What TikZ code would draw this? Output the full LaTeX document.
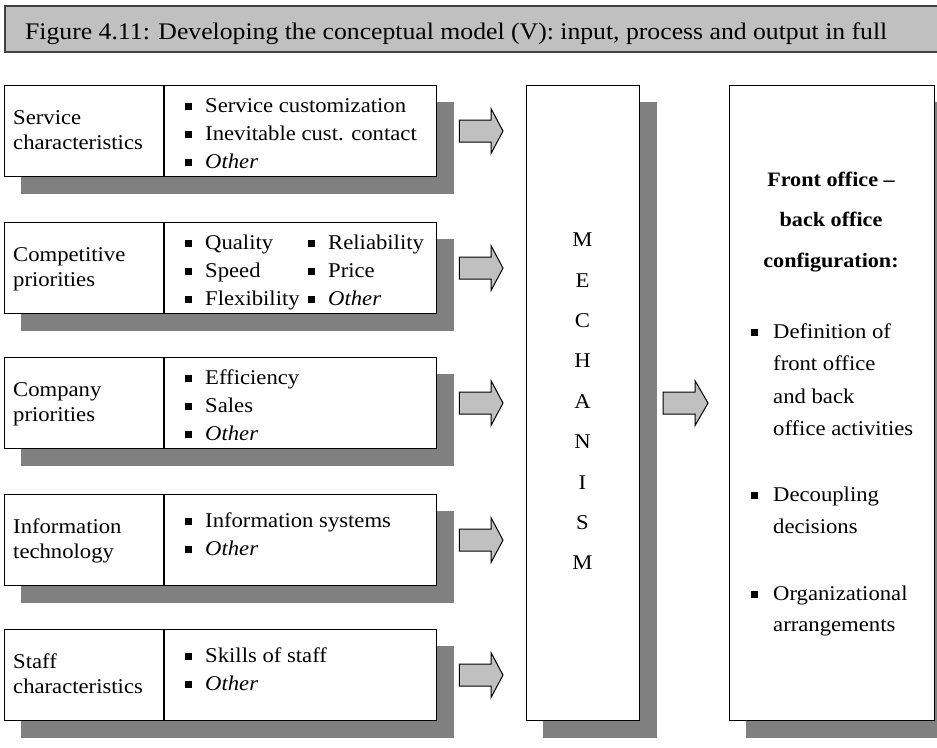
\documentclass[tikz,border=0pt]{standalone}
\usepackage{fontspec}
\setmainfont{Liberation Serif}[FakeStretch=1.08]
\usetikzlibrary{backgrounds,calc}
\definecolor{shadowgrey}{HTML}{808080}
\definecolor{arrowgrey}{HTML}{C0C0C0}
\definecolor{titlegrey}{HTML}{C0C0C0}
\definecolor{titleborder}{HTML}{404040}
\newcommand\sqb{\rule[2.5pt]{7pt}{7pt}}
\newcommand\lbul{\makebox[20pt][l]{\sqb}}
\newcommand\rbul{\makebox[22pt][l]{\sqb}}
\tikzset{
  txt/.style={inner sep=0pt, font=\fontsize{21}{25}\selectfont, anchor=base west},
  boldtxt/.style={inner sep=0pt, font=\fontsize{20.5}{25}\selectfont\bfseries, anchor=base},
  cell/.style={draw=black, line width=1.2pt, fill=white, inner sep=0pt, anchor=north west},
  fatarrow/.style={draw=black, line width=1pt, fill=arrowgrey, line join=miter},
}
\newcommand\inrow[2]{%
  \node[cell, minimum width=159pt, minimum height=91pt] (l#1) at (4,#2) {};
  \node[cell, minimum width=272pt, minimum height=91pt] (c#1) at (l#1.north east) {};
  \begin{scope}[on background layer]
    \fill[shadowgrey] ($(l#1.north west)+(16.5,16.5)$) rectangle ($(c#1.south east)+(16.5,16.5)$);
  \end{scope}
  \path (c#1.east) ++(22,0) coordinate (t#1);
  \path (mech.west |- c#1.east) ++(-23,0) coordinate (h#1);
  \draw[fatarrow] (t#1) ++(0,-11) -- ($(h#1)+(-12,-11)$) -- ($(h#1)+(-12,-22.5)$) -- (h#1)
     -- ($(h#1)+(-12,22.5)$) -- ($(h#1)+(-12,11)$) -- ($(t#1)+(0,11)$) -- cycle;
}
\begin{document}
\begin{tikzpicture}[x=1pt,y=-1pt]
\useasboundingbox (0,0) rectangle (937,747);
% title
\node[draw=titleborder, line width=2pt, fill=titlegrey, anchor=north west,
      minimum width=945pt, minimum height=46pt, inner sep=0pt] (titlebox) at (4,5) {};
\node[txt, font=\fontsize{23.8}{28}\selectfont] (title) at (25,39) {Figure 4.11: Developing the conceptual model (V): input, process and output in full};
% mechanism and output boxes
\node[cell, minimum width=113pt, minimum height=635pt] (mech) at (526,85) {};
\node[cell, minimum width=205pt, minimum height=635pt] (out) at (729,85) {};
\begin{scope}[on background layer]
  \fill[shadowgrey] ($(mech.north west)+(16.5,16.5)$) rectangle ($(mech.south east)+(16.5,16.5)$);
  \fill[shadowgrey] ($(out.north west)+(16.5,16.5)$) rectangle ($(out.south east)+(16.5,16.5)$);
\end{scope}
% input rows
\inrow{1}{85}
\inrow{2}{222}
\inrow{3}{357}
\inrow{4}{494}
\inrow{5}{629}
% row 1
\node[txt] (l1a) at ($(l1.north west)+(9,39)$) {Service};
\node[txt] (l1b) at ($(l1.north west)+(9,64.5)$) {characteristics};
\node[txt] (c1a) at ($(l1.north west)+(181,27)$) {\lbul Service customization};
\node[txt] (c1b) at ($(l1.north west)+(181,55.5)$) {\lbul Inevitable cust. contact};
\node[txt] (c1c) at ($(l1.north west)+(181,83)$) {\lbul\textit{Other}};
% row 2
\node[txt] (l2a) at ($(l2.north west)+(9,39)$) {Competitive};
\node[txt] (l2b) at ($(l2.north west)+(9,64.5)$) {priorities};
\node[txt] (c2a) at ($(l2.north west)+(181,27)$) {\lbul Quality};
\node[txt] (c2b) at ($(l2.north west)+(181,55.5)$) {\lbul Speed};
\node[txt] (c2c) at ($(l2.north west)+(181,83)$) {\lbul Flexibility};
\node[txt] (c2d) at ($(l2.north west)+(304,27)$) {\lbul Reliability};
\node[txt] (c2e) at ($(l2.north west)+(304,55.5)$) {\lbul Price};
\node[txt] (c2f) at ($(l2.north west)+(304,83)$) {\lbul\textit{Other}};
% row 3
\node[txt] (l3a) at ($(l3.north west)+(9,39)$) {Company};
\node[txt] (l3b) at ($(l3.north west)+(9,64.5)$) {priorities};
\node[txt] (c3a) at ($(l3.north west)+(181,27)$) {\lbul Efficiency};
\node[txt] (c3b) at ($(l3.north west)+(181,55.5)$) {\lbul Sales};
\node[txt] (c3c) at ($(l3.north west)+(181,83)$) {\lbul\textit{Other}};
% row 4
\node[txt] (l4a) at ($(l4.north west)+(9,39)$) {Information};
\node[txt] (l4b) at ($(l4.north west)+(9,64.5)$) {technology};
\node[txt] (c4a) at ($(l4.north west)+(181,33)$) {\lbul Information systems};
\node[txt] (c4b) at ($(l4.north west)+(181,61)$) {\lbul\textit{Other}};
% row 5
\node[txt] (l5a) at ($(l5.north west)+(9,39)$) {Staff};
\node[txt] (l5b) at ($(l5.north west)+(9,64.5)$) {characteristics};
\node[txt] (c5a) at ($(l5.north west)+(181,33)$) {\lbul Skills of staff};
\node[txt] (c5b) at ($(l5.north west)+(181,61)$) {\lbul\textit{Other}};
% mechanism letters
\foreach \ch [count=\i from 0] in {M,E,C,H,A,N,I,S,M}
  \node[txt, anchor=base] (m\i) at (582.5,246.7+40.4*\i) {\ch};
% middle arrow
\path (mech.east) ++(23,0) coordinate (tm);
\path (out.west) ++(-21,0) coordinate (hm);
\draw[fatarrow] (tm) ++(0,-11) -- ($(hm)+(-13,-11)$) -- ($(hm)+(-13,-22.5)$) -- (hm)
   -- ($(hm)+(-13,22.5)$) -- ($(hm)+(-13,11)$) -- ($(tm)+(0,11)$) -- cycle;
% output text
\node[boldtxt] (o1) at (831,186) {Front office –};
\node[boldtxt] (o2) at (831,226) {back office};
\node[boldtxt] (o3) at (831,267) {configuration:};
\node[txt] (p1) at (751,338) {\rbul Definition of};
\node[txt] (p2) at (773,370.7) {front office};
\node[txt] (p3) at (773,403.3) {and back};
\node[txt] (p4) at (773,435.7) {office activities};
\node[txt] (p5) at (751,501.7) {\rbul Decoupling};
\node[txt] (p6) at (773,533.3) {decisions};
\node[txt] (p7) at (751,600) {\rbul Organizational};
\node[txt] (p8) at (773,631.7) {arrangements};
\end{tikzpicture}
\end{document}
